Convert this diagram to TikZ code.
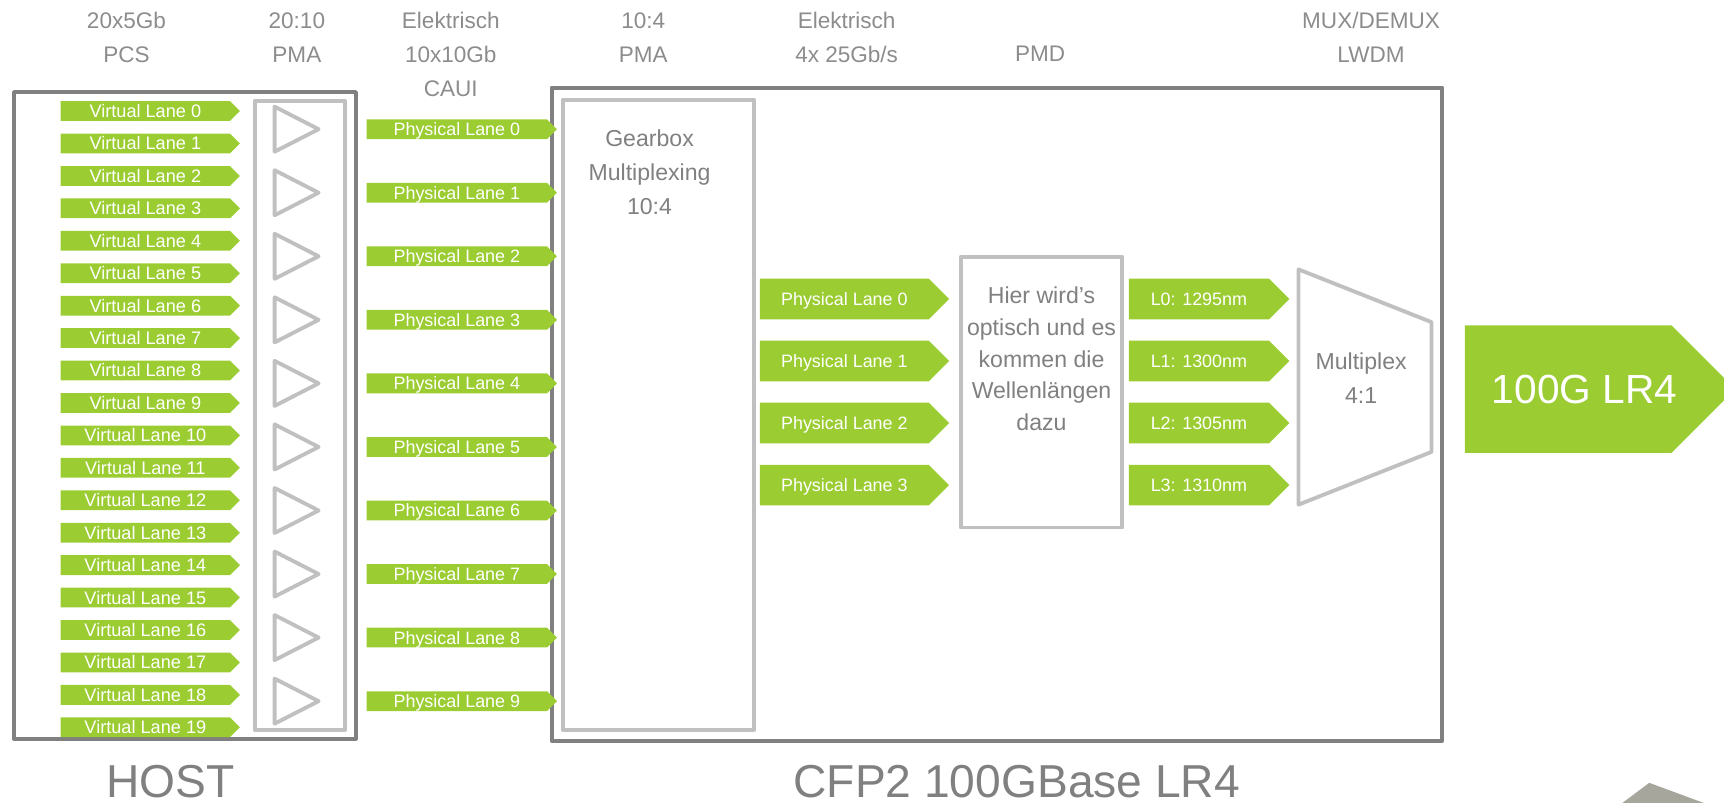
\documentclass[tikz,border=0pt]{standalone}
\usepackage{fontspec}
\setmainfont{Liberation Sans}
\usetikzlibrary{shapes,positioning}

\definecolor{lanegreen}{RGB}{155,204,50}
\definecolor{framedark}{RGB}{128,128,128}
\definecolor{framelight}{RGB}{192,192,192}
\definecolor{textgray}{RGB}{128,128,128}
\definecolor{headgray}{RGB}{140,140,140}
\definecolor{blobgray}{RGB}{166,166,156}

\begin{document}
\begin{tikzpicture}[x=1pt, y=-1pt, line join=round]

    % Define block styles
    \tikzstyle{hostbox} = [draw=framedark, line width=3.5pt, inner sep=0pt, anchor=north west]
    \tikzstyle{innerbox} = [draw=framelight, line width=3.5pt, inner sep=0pt, anchor=north west]
    \tikzstyle{lane} = [signal, signal to=east, signal pointer angle=90, fill=lanegreen, text=white, inner sep=0pt, text height=11.7pt, text depth=0pt]
    \tikzstyle{vlane} = [lane, minimum width=163pt, minimum height=18pt, font=\fontsize{16.5}{16.5}\selectfont]
    \tikzstyle{plane} = [lane, minimum width=173pt, minimum height=18pt, font=\fontsize{16.3}{16.3}\selectfont]
    \tikzstyle{ilane} = [lane, minimum width=172pt, minimum height=37pt, font=\fontsize{16.3}{16.3}\selectfont]
    \tikzstyle{wlane} = [lane, minimum width=146pt, minimum height=37pt, font=\fontsize{16.3}{16.3}\selectfont]
    \tikzstyle{pmatri} = [on grid, draw=framelight, line width=3.5pt, isosceles triangle, isosceles triangle stretches, minimum width=41pt, minimum height=40pt, inner sep=0pt]
    \tikzstyle{head} = [text=headgray, align=center, anchor=north, inner sep=0pt, font=\fontsize{20.5}{31}\selectfont]
    \tikzstyle{boxtext} = [text=textgray, align=center, inner sep=0pt, font=\fontsize{21}{31}\selectfont]
    \tikzstyle{title} = [text=textgray, inner sep=0pt, font=\fontsize{42}{42}\selectfont]

    \useasboundingbox (0,0) rectangle (1568,730);

    % Layer headings
    \node[head] (pcs) at (115,11) {20x5Gb\\PCS};
    \node[head] (pmahost) at (270,11) {20:10\\PMA};
    \node[head] (caui) at (410,11) {Elektrisch\\10x10Gb\\CAUI};
    \node[head] (pmacfp) at (585,11) {10:4\\PMA};
    \node[head] (elektr) at (770,11) {Elektrisch\\4x 25Gb/s};
    \node[head] (pmd) at (946,42) {PMD};
    \node[head] (lwdm) at (1247,11) {MUX/DEMUX\\LWDM};

    % Frames
    \node[hostbox, minimum width=311pt, minimum height=588pt] (host) at (11,82) {};
    \node[innerbox, minimum width=82pt, minimum height=572pt] (pma) at (230,90) {};
    \node[hostbox, minimum width=810pt, minimum height=594pt] (cfp) at (500,78) {};
    \node[innerbox, minimum width=174pt, minimum height=573pt] (gear) at (510,89) {};
    \node[innerbox, minimum width=147pt, minimum height=246pt] (optic) at (872,232) {};

    \node[boxtext, below=29pt of gear.north, xshift=-8pt] (geartext) {Gearbox\\Multiplexing\\10:4};
    \node[boxtext, below=29pt of optic.north, font=\fontsize{21}{28.75}\selectfont] (optictext) {Hier wird’s\\optisch und es\\kommen die\\Wellenlängen\\dazu};

    % Virtual lanes
    \node[vlane, anchor=west] (vl0) at (55,101) {Virtual Lane 0};
    \node[vlane, below=11.1pt of vl0] (vl1) {Virtual Lane 1};
    \node[vlane, below=11.1pt of vl1] (vl2) {Virtual Lane 2};
    \node[vlane, below=11.1pt of vl2] (vl3) {Virtual Lane 3};
    \node[vlane, below=11.1pt of vl3] (vl4) {Virtual Lane 4};
    \node[vlane, below=11.1pt of vl4] (vl5) {Virtual Lane 5};
    \node[vlane, below=11.1pt of vl5] (vl6) {Virtual Lane 6};
    \node[vlane, below=11.1pt of vl6] (vl7) {Virtual Lane 7};
    \node[vlane, below=11.1pt of vl7] (vl8) {Virtual Lane 8};
    \node[vlane, below=11.1pt of vl8] (vl9) {Virtual Lane 9};
    \node[vlane, below=11.1pt of vl9] (vl10) {Virtual Lane 10};
    \node[vlane, below=11.1pt of vl10] (vl11) {Virtual Lane 11};
    \node[vlane, below=11.1pt of vl11] (vl12) {Virtual Lane 12};
    \node[vlane, below=11.1pt of vl12] (vl13) {Virtual Lane 13};
    \node[vlane, below=11.1pt of vl13] (vl14) {Virtual Lane 14};
    \node[vlane, below=11.1pt of vl14] (vl15) {Virtual Lane 15};
    \node[vlane, below=11.1pt of vl15] (vl16) {Virtual Lane 16};
    \node[vlane, below=11.1pt of vl16] (vl17) {Virtual Lane 17};
    \node[vlane, below=11.1pt of vl17] (vl18) {Virtual Lane 18};
    \node[vlane, below=11.1pt of vl18] (vl19) {Virtual Lane 19};

    % PMA 20:10
    \node[pmatri, anchor=west] (t0) at (248,117.5) {};
    \node[pmatri, below=57.8pt of t0] (t1) {};
    \node[pmatri, below=57.8pt of t1] (t2) {};
    \node[pmatri, below=57.8pt of t2] (t3) {};
    \node[pmatri, below=57.8pt of t3] (t4) {};
    \node[pmatri, below=57.8pt of t4] (t5) {};
    \node[pmatri, below=57.8pt of t5] (t6) {};
    \node[pmatri, below=57.8pt of t6] (t7) {};
    \node[pmatri, below=57.8pt of t7] (t8) {};
    \node[pmatri, below=57.8pt of t8] (t9) {};

    % CAUI lanes
    \node[plane, right=39pt of t0] (pl0) {Physical Lane 0};
    \node[plane, right=39pt of t1] (pl1) {Physical Lane 1};
    \node[plane, right=39pt of t2] (pl2) {Physical Lane 2};
    \node[plane, right=39pt of t3] (pl3) {Physical Lane 3};
    \node[plane, right=39pt of t4] (pl4) {Physical Lane 4};
    \node[plane, right=39pt of t5] (pl5) {Physical Lane 5};
    \node[plane, right=39pt of t6] (pl6) {Physical Lane 6};
    \node[plane, right=39pt of t7] (pl7) {Physical Lane 7};
    \node[plane, right=39pt of t8] (pl8) {Physical Lane 8};
    \node[plane, right=39pt of t9] (pl9) {Physical Lane 9};

    % 4x 25Gb/s lanes and wavelengths
    \node[ilane, anchor=west] (ip0) at (691,272) {Physical Lane 0};
    \node[ilane, below=19pt of ip0] (ip1) {Physical Lane 1};
    \node[ilane, below=19pt of ip1] (ip2) {Physical Lane 2};
    \node[ilane, below=19pt of ip2] (ip3) {Physical Lane 3};

    \node[wlane, right=163pt of ip0] (w0) {L0: 1295nm};
    \node[wlane, right=163pt of ip1] (w1) {L1: 1300nm};
    \node[wlane, right=163pt of ip2] (w2) {L2: 1305nm};
    \node[wlane, right=163pt of ip3] (w3) {L3: 1310nm};

    % Multiplexer
    \draw[framelight, line width=3.5pt] (1181,245) -- (1302,293) -- (1302,411) -- (1181,459) -- cycle;
    \node[boxtext, anchor=north] (muxtext) at (1238,321) {Multiplex\\4:1};

    % Output
    \node[lane, anchor=west, minimum width=246pt, minimum height=116pt, text height=26.5pt, font=\fontsize{37}{37}\selectfont] (lr4) at (1332,354) {100G LR4\hspace*{-30pt}};

    % Titles
    \node[title, below=22pt of host, xshift=-13.5pt] (hosttitle) {HOST};
    \node[title, below=20pt of cfp, xshift=18pt] (cfptitle) {CFP2 100GBase LR4};

    \fill[blobgray] (1500,712) -- (1440,757) -- (1622,757) -- cycle;

\end{tikzpicture}
\end{document}
